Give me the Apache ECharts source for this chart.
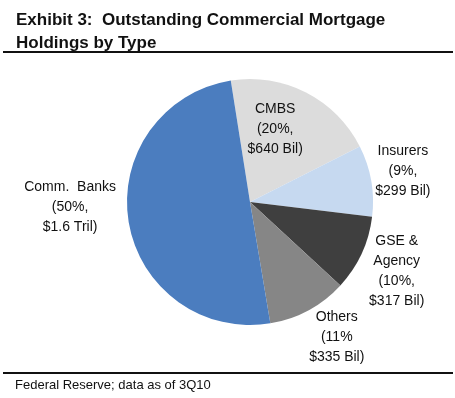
<!DOCTYPE html>
<html>
<head>
<meta charset="utf-8">
<script src="https://cdn.jsdelivr.net/npm/echarts@6/dist/echarts.min.js"></script>
<style>
  html, body { margin: 0; padding: 0; background: #fff; }
  #chart { width: 455px; height: 398px; }
</style>
</head>
<body>
<div id="chart"></div>
<script>
// holdings, $ billions (clockwise from the top)
const categories = ['CMBS', 'Insurers', 'GSE & Agency', 'Others', 'Comm. Banks']
const holdings = [640, 299, 317, 335, 1600]
const labelTexts = [
  'CMBS\n(20%,\n$640 Bil)',
  'Insurers\n(9%,\n$299 Bil)',
  'GSE &\nAgency\n(10%,\n$317 Bil)',
  'Others\n(11%\n$335 Bil)',
  'Comm.  Banks\n(50%,\n$1.6 Tril)'
]
const colors = ['#dcdcdc', '#c6d9f0', '#3f3f3f', '#868686', '#4b7dbf']

const center = [250, 202]
const radius = 123
const startAngle = 99
// label placement: distance from the centre and a small turn off the slice middle (deg)
const labelDist = [77, 156, 162, 161, 180]
const labelTurn = [8, 1.5, -0.3, 4.2, -7.5]

const total = holdings.reduce((a, b) => a + b, 0)
let acc = 0
const midAngles = holdings.map((v, i) => {
  const mid = startAngle - (acc + v / 2) / total * 360 + labelTurn[i]
  acc += v
  return mid * Math.PI / 180
})

const chart = echarts.init(document.getElementById('chart'))
chart.setOption({
  animation: false,
  title: {
    text: 'Exhibit 3:  Outstanding Commercial Mortgage\nHoldings by Type',
    left: 11,
    top: 4,
    textStyle: {
      fontFamily: 'Liberation Sans, Arial, sans-serif',
      fontSize: 17,
      fontWeight: 'bold',
      color: '#111',
      lineHeight: 23
    }
  },
  graphic: [
    { type: 'rect', shape: { x: 3, y: 51, width: 450, height: 2 }, style: { fill: '#111' } },
    { type: 'rect', shape: { x: 3, y: 372, width: 450, height: 2 }, style: { fill: '#111' } },
    {
      type: 'text', left: 15, top: 379,
      style: { text: 'Federal Reserve; data as of 3Q10', fontFamily: 'Liberation Sans, Arial, sans-serif', fontSize: 13, fill: '#111' }
    }
  ],
  series: [{
    type: 'pie',
    center: center,
    radius: radius,
    startAngle: startAngle,
    clockwise: true,
    data: categories.map((c, i) => ({
      name: c,
      value: holdings[i],
      itemStyle: { color: colors[i] }
    })),
    label: {
      show: true,
      position: 'outside',
      formatter: p => labelTexts[p.dataIndex],
      fontFamily: 'Liberation Sans, Arial, sans-serif',
      fontSize: 14,
      lineHeight: 20,
      color: '#111',
      align: 'center',
      overflow: 'none'
    },
    labelLine: { show: false },
    labelLayout: p => {
      const i = p.dataIndex
      return {
        x: center[0] + Math.cos(midAngles[i]) * labelDist[i],
        y: center[1] - Math.sin(midAngles[i]) * labelDist[i],
        align: 'center',
        verticalAlign: 'middle'
      }
    },
    itemStyle: { borderWidth: 0 },
    emphasis: { disabled: true }
  }]
})
</script>
</body>
</html>
